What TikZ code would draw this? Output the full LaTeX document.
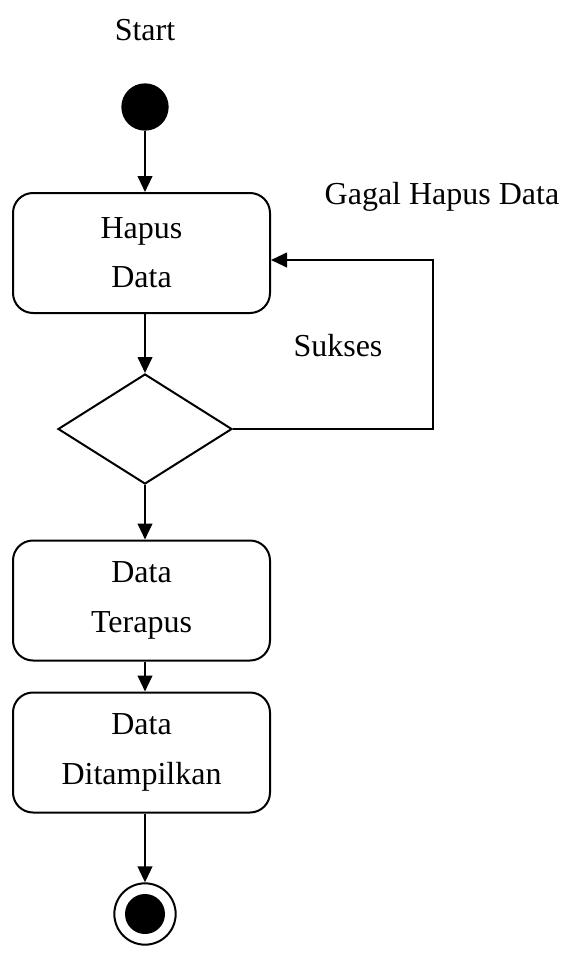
\documentclass[tikz,border=0pt]{standalone}
\usepackage{fontspec}
\setmainfont{Liberation Serif}
\usetikzlibrary{arrows.meta,positioning,shapes.geometric}

\tikzset{
  actbox/.style={draw, line width=1.5pt, rounded corners=15pt, minimum width=192.75pt, minimum height=90pt, align=center, font=\fontsize{24}{37}\selectfont},
  decide/.style={draw, diamond, line width=1.5pt, inner sep=0pt, minimum width=130.5pt, minimum height=82.5pt},
  flow/.style={line width=1.5pt, -{Triangle[length=12pt,width=11pt]}},
  lbl/.style={font=\fontsize{24}{28}\selectfont}
}

\begin{document}
\begin{tikzpicture}[x=0.75pt, y=-0.75pt]
\useasboundingbox (0,0) rectangle (567,953);
\node[lbl] (start) at (145,30) {Start};
\node[circle, fill, inner sep=0pt, minimum size=35.5pt] (init) at (145,107) {};
\node[actbox] (hapus) at (141.5,253) {Hapus\\Data};
\node[decide] (cek) at (145,429) {};
\node[actbox] (terapus) at (141.5,600.5) {Data\\Terapus};
\node[actbox] (tampil) at (141.5,752.5) {Data\\Ditampilkan};
\node[circle, draw, line width=1.5pt, inner sep=0pt, minimum size=46pt] (final) at (145,914) {};
\node[circle, fill, inner sep=0pt, minimum size=30pt] (finalin) at (final) {};
\coordinate (loopb) at (433,260);
% alur
\draw[flow] (init) -- (hapus.north -| init);
\draw[flow] (hapus.south -| cek) -- (cek);
\draw[flow] (cek) -- (terapus.north -| cek);
\draw[flow] (terapus.south -| cek) -- (tampil.north -| cek);
\draw[flow] (tampil.south -| cek) -- (final);
\draw[flow] (cek.east) -- (cek.east -| loopb) -- (loopb) -- (loopb -| hapus.east);
\node[lbl] (sukses) at (338,346) {Sukses};
\node[lbl] (gagal) at (442,197) {Gagal Hapus Data};
\end{tikzpicture}
\end{document}
